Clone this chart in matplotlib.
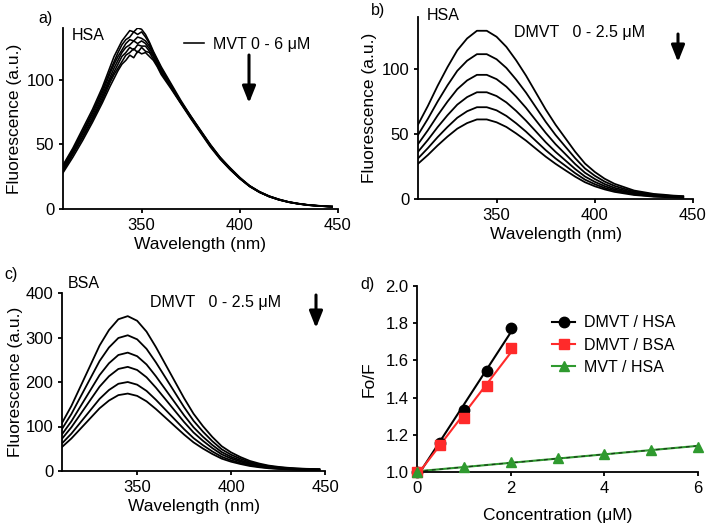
"""
Fluorescence quenching of HSA / BSA by MVT and DMVT
- a-c: emission spectra, d: Stern-Volmer plot
"""

import numpy as np
import matplotlib
matplotlib.use("Agg")
import matplotlib.pyplot as plt

plt.rcParams["font.family"] = ["Liberation Sans", "DejaVu Sans"]

# ---- data ----
# panel a (HSA + MVT 0-6 uM), noisy spectra
wl_a = [310, 315, 320, 325, 330, 334, 336, 338, 340, 342, 344, 346, 348, 350, 352, 354, 356, 358,
        360, 365, 370, 375, 380, 385, 390, 395, 400, 405, 410, 415, 420, 425, 430, 435, 440, 445, 447]
a1 = [34, 47, 62, 77, 94, 110, 118, 124, 130, 134, 138, 137, 140, 139, 135, 129, 122, 116,
      110, 97, 84, 72, 61, 50, 40, 32, 24.5, 18, 13.5, 10, 7.5, 5.5, 4.2, 3.2, 2.6, 2.1, 2.0]
a2 = [33, 46, 60, 75, 92, 107, 114, 121, 127, 131, 133, 137, 135, 137, 133, 128, 121, 115,
      109, 96, 83, 72, 60.5, 49.5, 40, 31.5, 24, 18, 13.3, 9.9, 7.4, 5.4, 4.1, 3.1, 2.5, 2.0, 1.9]
a3 = [32, 45, 59, 74, 90, 105, 112, 118, 123, 128, 131, 130, 133, 132, 130, 126, 120, 114,
      108, 95, 83, 71.5, 60.5, 49.5, 39.5, 31.5, 24, 17.8, 13.2, 9.8, 7.3, 5.4, 4.1, 3.1, 2.5, 2.0, 1.9]
a4 = [31, 44, 58, 72, 88, 102, 109, 115, 121, 125, 127, 130, 128, 130, 128, 124, 119, 113,
      107, 95, 82.5, 71, 60, 49, 39.5, 31, 23.8, 17.7, 13.1, 9.7, 7.2, 5.3, 4.0, 3.0, 2.4, 2.0, 1.8]
a5 = [30, 43, 56, 70, 86, 100, 106, 112, 118, 121, 125, 123, 127, 126, 126, 122, 118, 112,
      106, 94, 82, 71, 60, 49, 39, 31, 23.7, 17.6, 13, 9.6, 7.1, 5.3, 4.0, 3.0, 2.4, 1.9, 1.8]
a6 = [29, 42, 55, 69, 84, 98, 104, 109, 114, 119, 121, 124, 121, 125, 122, 121, 116, 111,
      105, 94, 82, 70.5, 59.5, 48.5, 39, 30.8, 23.6, 17.5, 13, 9.6, 7.1, 5.2, 3.9, 3.0, 2.4, 1.9, 1.8]
a7 = [28, 40, 53, 67, 82, 95, 101, 107, 112, 115, 119, 117, 122, 120, 121, 118, 115, 110,
      104, 93, 81.5, 70, 59, 48, 38.5, 30.5, 23.5, 17.4, 12.9, 9.5, 7.0, 5.2, 3.9, 2.9, 2.3, 1.9, 1.7]

# panel b (HSA + DMVT 0-2.5 uM)
wl_b = [310, 315, 320, 325, 330, 335, 340, 345, 350, 355, 360, 365, 370, 375,
        380, 385, 390, 395, 400, 405, 410, 415, 420, 425, 430, 435, 440, 445]
b1 = [57.2, 71.5, 87.1, 101.4, 114.4, 123.5, 129.4, 129.4, 124.8, 117.0, 106.6, 94.9, 81.9, 68.9,
      57.2, 46.8, 36.4, 27.3, 20.8, 15.6, 11.7, 9.1, 6.5, 5.2, 3.9, 3.3, 2.6, 2.2]
b2 = [49.3, 61.6, 75.0, 87.4, 98.6, 106.4, 111.4, 111.4, 107.5, 100.8, 91.8, 81.8, 70.6, 59.4,
      49.3, 40.3, 31.4, 23.5, 17.9, 13.4, 10.1, 7.8, 5.6, 4.5, 3.4, 2.8, 2.2, 1.9]
b3 = [42.2, 52.8, 64.3, 74.9, 84.5, 91.2, 95.5, 95.5, 92.2, 86.4, 78.7, 70.1, 60.5, 50.9,
      42.2, 34.6, 26.9, 20.2, 15.4, 11.5, 8.6, 6.7, 4.8, 3.8, 2.9, 2.4, 1.9, 1.6]
b4 = [36.3, 45.4, 55.3, 64.4, 72.6, 78.4, 82.1, 82.1, 79.2, 74.3, 67.7, 60.2, 52.0, 43.7,
      36.3, 29.7, 23.1, 17.3, 13.2, 9.9, 7.4, 5.8, 4.1, 3.3, 2.5, 2.1, 1.7, 1.4]
b5 = [31.2, 39.1, 47.6, 55.4, 62.5, 67.5, 70.6, 70.6, 68.2, 63.9, 58.2, 51.8, 44.7, 37.6,
      31.2, 25.6, 19.9, 14.9, 11.4, 8.5, 6.4, 5.0, 3.6, 2.8, 2.1, 1.8, 1.4, 1.2]
b6 = [27.1, 33.8, 41.2, 48.0, 54.1, 58.4, 61.2, 61.2, 59.0, 55.4, 50.4, 44.9, 38.7, 32.6,
      27.1, 22.1, 17.2, 12.9, 9.8, 7.4, 5.5, 4.3, 3.1, 2.5, 1.8, 1.5, 1.2, 1.0]

# panel c (BSA + DMVT 0-2.5 uM)
wl_c = [310, 315, 320, 325, 330, 335, 340, 345, 350, 355, 360, 365, 370, 375,
        380, 385, 390, 395, 400, 405, 410, 415, 420, 425, 430, 435, 440, 447]
c1 = [107.9, 146.2, 191.4, 236.6, 281.9, 316.7, 341.0, 348.0, 337.6, 313.2, 278.4, 240.1, 201.8, 163.6,
      128.8, 100.9, 76.6, 55.7, 41.8, 31.3, 22.6, 16.7, 12.2, 9.4, 7.3, 5.9, 4.9, 4.2]
c2 = [94.6, 128.1, 167.8, 207.4, 247.1, 277.6, 298.9, 305.0, 295.9, 274.5, 244.0, 210.5, 176.9, 143.4,
      112.9, 88.5, 67.1, 48.8, 36.6, 27.5, 19.8, 14.6, 10.7, 8.2, 6.4, 5.2, 4.3, 3.7]
c3 = [82.5, 111.7, 146.3, 180.9, 215.5, 242.1, 260.7, 266.0, 258.0, 239.4, 212.8, 183.5, 154.3, 125.0,
      98.4, 77.1, 58.5, 42.6, 31.9, 23.9, 17.3, 12.8, 9.3, 7.2, 5.6, 4.5, 3.7, 3.2]
c4 = [72.5, 98.3, 128.7, 159.1, 189.5, 212.9, 229.3, 234.0, 227.0, 210.6, 187.2, 161.5, 135.7, 110.0,
      86.6, 67.9, 51.5, 37.4, 28.1, 21.1, 15.2, 11.2, 8.2, 6.3, 4.9, 4.0, 3.3, 2.8]
c5 = [62.0, 84.0, 110.0, 136.0, 162.0, 182.0, 196.0, 200.0, 194.0, 180.0, 160.0, 138.0, 116.0, 94.0,
      74.0, 58.0, 44.0, 32.0, 24.0, 18.0, 13.0, 9.6, 7.0, 5.4, 4.2, 3.4, 2.8, 2.4]
c6 = [53.9, 73.1, 95.7, 118.3, 140.9, 158.3, 170.5, 174.0, 168.8, 156.6, 139.2, 120.1, 100.9, 81.8,
      64.4, 50.5, 38.3, 27.8, 20.9, 15.7, 11.3, 8.4, 6.1, 4.7, 3.7, 3.0, 2.4, 2.1]

# panel d (Stern-Volmer)
conc_dmvt = [0, 0.5, 1, 1.5, 2]
f0f_dmvt_hsa = [1.0, 1.155, 1.335, 1.545, 1.775]
f0f_dmvt_bsa = [1.0, 1.145, 1.29, 1.46, 1.665]
conc_mvt = [0, 1, 2, 3, 4, 5, 6]
f0f_mvt_hsa = [1.0, 1.027, 1.052, 1.073, 1.098, 1.118, 1.137]

W, H = 710, 527
fig = plt.figure(figsize=(W / 100, H / 100), dpi=100)

def box(left, top, right, bottom):
    return [left / W, 1 - bottom / H, (right - left) / W, (bottom - top) / H]

def style(ax, fs=12):
    ax.spines["top"].set_visible(False); ax.spines["right"].set_visible(False)
    for s in ("left", "bottom"):
        ax.spines[s].set_linewidth(1.3)
    ax.tick_params(direction="out", length=3.2, width=1.3, labelsize=fs, pad=3)

def arrow(x, y0, y1):
    fig.add_artist(matplotlib.patches.FancyArrowPatch(
        (x / W, 1 - y0 / H), (x / W, 1 - y1 / H), transform=fig.transFigure,
        arrowstyle="-|>,head_width=4,head_length=10", mutation_scale=1,
        color="black", lw=2.2, shrinkA=0, shrinkB=0))

lw_spec = 1.3
lab_fs = 12.5

# ---- a) ----
ax = fig.add_axes(box(63, 28, 338, 209))
lines = []
for y in (a1, a2, a3, a4, a5, a6, a7):
    lines += ax.plot(wl_a, y, color="black", lw=1.15)
ax.set_xlim(310, 450); ax.set_ylim(0, 140)
ax.set_xticks([350, 400, 450]); ax.set_yticks([0, 50, 100])
ax.set_xlabel("Wavelength (nm)", fontsize=lab_fs, labelpad=3)
ax.set_ylabel("Fluorescence (a.u.)", fontsize=lab_fs, labelpad=3)
style(ax)
ax.legend([lines[0]], ["MVT 0 - 6 μM"], loc="center left", frameon=False, fontsize=11.5,
          handlelength=1.2, handletextpad=0.6, bbox_to_anchor=(170 / W, 1 - 44 / H),
          bbox_transform=fig.transFigure)
fig.text(72 / W, 1 - 35 / H, "HSA", fontsize=11.5, va="center", ha="left")
fig.text(38 / W, 1 - 18 / H, "a)", fontsize=11.5, va="center", ha="left")
arrow(249, 55, 103)

# ---- b) ----
ax = fig.add_axes(box(418, 17, 693, 199))
for y in (b1, b2, b3, b4, b5, b6):
    ax.plot(wl_b, y, color="black", lw=lw_spec)
ax.set_xlim(310, 450); ax.set_ylim(0, 140)
ax.set_xticks([350, 400, 450]); ax.set_yticks([0, 50, 100])
ax.set_xlabel("Wavelength (nm)", fontsize=lab_fs, labelpad=3)
ax.set_ylabel("Fluorescence (a.u.)", fontsize=lab_fs, labelpad=3)
style(ax)
fig.text(427 / W, 1 - 15 / H, "HSA", fontsize=11.5, va="center", ha="left")
fig.text(514 / W, 1 - 33 / H, "DMVT   0 - 2.5 μM", fontsize=11.5, va="center", ha="left")
fig.text(371 / W, 1 - 11 / H, "b)", fontsize=11.5, va="center", ha="left")
arrow(678, 34, 62)

# ---- c) ----
ax = fig.add_axes(box(62, 293, 325, 471))
for y in (c1, c2, c3, c4, c5, c6):
    ax.plot(wl_c, y, color="black", lw=lw_spec)
ax.set_xlim(310, 450); ax.set_ylim(0, 400)
ax.set_xticks([350, 400, 450]); ax.set_yticks([0, 100, 200, 300, 400])
ax.set_xlabel("Wavelength (nm)", fontsize=lab_fs, labelpad=3)
ax.set_ylabel("Fluorescence (a.u.)", fontsize=lab_fs, labelpad=2)
style(ax)
fig.text(68 / W, 1 - 284 / H, "BSA", fontsize=11.5, va="center", ha="left")
fig.text(150 / W, 1 - 302 / H, "DMVT   0 - 2.5 μM", fontsize=11.5, va="center", ha="left")
fig.text(4 / W, 1 - 275 / H, "c)", fontsize=11.5, va="center", ha="left")
arrow(316, 295, 328)

# ---- d) ----
ax = fig.add_axes(box(417, 286, 698, 472))
series = [
    (conc_dmvt, f0f_dmvt_hsa, "black",   "o", 7.5, "DMVT / HSA"),
    (conc_dmvt, f0f_dmvt_bsa, "#ff2a2a", "s", 7.5, "DMVT / BSA"),
    (conc_mvt,  f0f_mvt_hsa,  "#2f9a2f", "^", 7,   "MVT / HSA"),
]
for x, y, col, mk, ms, lab in series:
    k, b0 = np.polyfit(x, y, 1)
    xx = np.array([x[0], x[-1]])
    ax.plot(xx, k * xx + b0, color=col, lw=1.5)
    if mk == "^":
        ax.plot(xx, k * xx + b0, color="#1a3a1a", lw=0.9, ls=(0, (3, 3)))
    ax.plot(x, y, ls="none", marker=mk, ms=ms, color=col, clip_on=False, zorder=4)
    ax.plot([], [], color=col, marker=mk, ms=ms, lw=1.5, label=lab)
ax.set_xlim(0, 6); ax.set_ylim(1.0, 2.0)
ax.set_xticks([0, 2, 4, 6]); ax.set_yticks([1.0, 1.2, 1.4, 1.6, 1.8, 2.0])
ax.set_xlabel("Concentration (μM)", fontsize=12.5, labelpad=9)
ax.set_ylabel("Fo/F", fontsize=12.5, labelpad=6)
style(ax, 12)
ax.legend(loc="upper left", frameon=False, fontsize=11.5, handlelength=1.4, handletextpad=0.6,
          labelspacing=0.45, bbox_to_anchor=(538 / W, 1 - 301 / H), bbox_transform=fig.transFigure)
fig.text(360 / W, 1 - 285 / H, "d)", fontsize=11.5, va="center", ha="left")

plt.savefig("out.png", dpi=100)
plt.close()
